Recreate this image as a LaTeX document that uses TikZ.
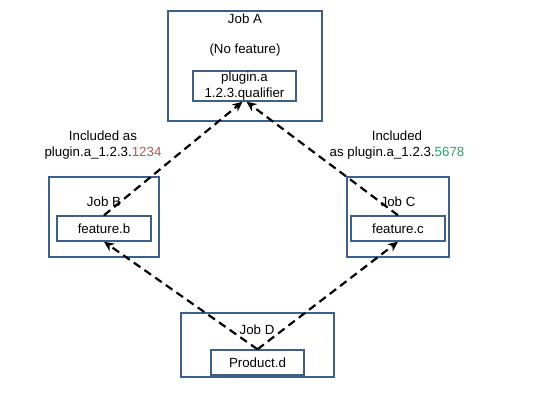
\documentclass[tikz,border=0pt]{standalone}
\usepackage{fontspec}
\setmainfont{Liberation Sans}
\usetikzlibrary{arrows.meta}
\definecolor{boxline}{HTML}{3F5F87}
\definecolor{numred}{HTML}{B05A5A}
\definecolor{numgreen}{HTML}{2EA06E}
\begin{document}
\begin{tikzpicture}[x=1pt,y=-1pt,
  every node/.style={font=\fontsize{13.3}{15.5}\selectfont, inner sep=0pt},
  outerbox/.style={draw=boxline, line width=1.4pt, fill=white},
  innerbox/.style={draw=boxline, line width=1.4pt, fill=white, align=center},
  conn/.style={line width=2.2pt, dash pattern=on 8pt off 5pt, -{Stealth[length=10pt,width=9pt]}},
  lbl/.style={align=center}]
\useasboundingbox (0,0) rectangle (540,405);
% outer boxes
\draw[outerbox] (168,11) rectangle (322,121);
\draw[outerbox] (49,177) rectangle (159,257);
\draw[outerbox] (347,177) rectangle (449,257);
\draw[outerbox] (181,313) rectangle (334,377);
% titles
\node (ta) at (245,19) {Job A};
\node (nf) at (245,50) {(No feature)};
\node (tb) at (104,202) {Job B};
\node (tc) at (398,202) {Job C};
\node (td) at (257,330) {Job D};
% inner boxes
\node[innerbox, minimum width=103pt, minimum height=30pt] (pa) at (244.5,86) {plugin.a\\1.2.3.qualifier};
\node[innerbox, minimum width=94pt, minimum height=25pt] (fb) at (104,228.5) {feature.b};
\node[innerbox, minimum width=94pt, minimum height=25pt] (fc) at (398,228.5) {feature.c};
\node[innerbox, minimum width=93pt, minimum height=25pt] (pd) at (257.5,362.5) {Product.d};
% labels
\node[lbl] (lb) at (103,145) {Included as\\plugin.a\_1.2.3.\textcolor{numred}{1234}};
\node[lbl] (lc) at (397,145) {Included\\as plugin.a\_1.2.3.\textcolor{numgreen}{5678}};
% connectors
\draw[conn] (pd.north) -- (fb.south);
\draw[conn] (pd.north) -- (fc.south);
\draw[conn] (fb.north) -- ([xshift=-2pt]pa.south);
\draw[conn] (fc.north) -- ([xshift=2pt]pa.south);
\end{tikzpicture}
\end{document}
